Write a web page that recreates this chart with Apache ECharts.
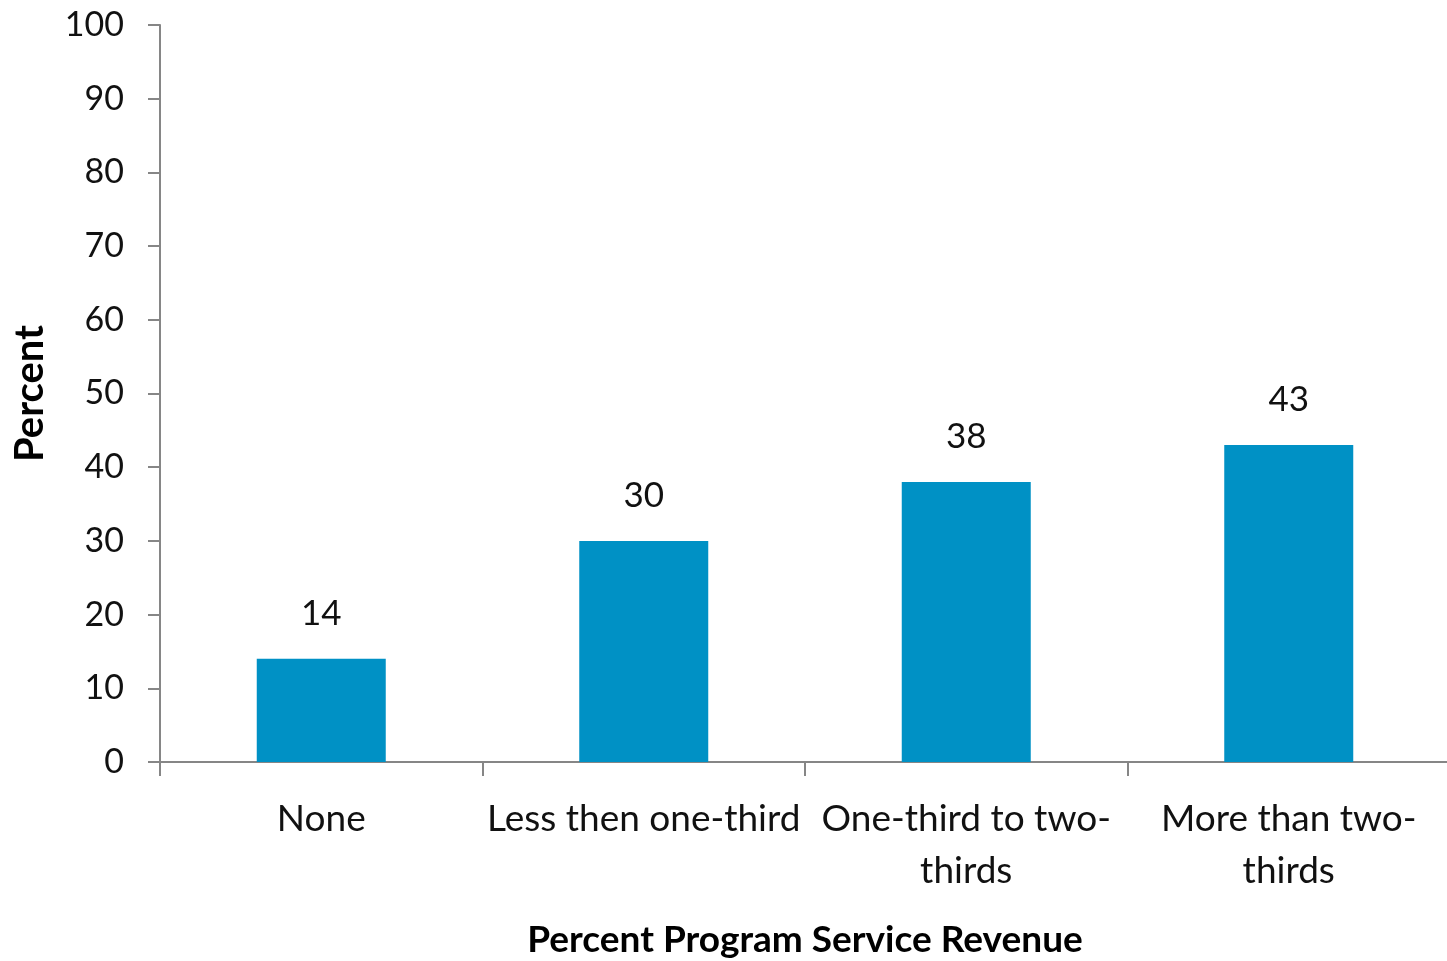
<!DOCTYPE html>
<html>
<head>
<meta charset="utf-8">
<script src="https://cdn.jsdelivr.net/npm/echarts@6/dist/echarts.min.js"></script>
<style>html,body{margin:0;padding:0;background:#fff}#c{width:1447px;height:961px}</style>
</head>
<body>
<div id="c"></div>
<script>
const categories = ["None", "Less then one-third", "One-third to two-thirds", "More than two-thirds"];
const values = [14, 30, 38, 43];
const yTicks = [0, 10, 20, 30, 40, 50, 60, 70, 80, 90, 100];
const xTitle = "Percent Program Service Revenue";
const yTitle = "Percent";

const FONT = 'Lato, "Open Sans", sans-serif';
const chart = echarts.init(document.getElementById('c'), null, {renderer: 'canvas'});
chart.setOption({
  animation: false,
  textStyle: {fontFamily: FONT},
  grid: {left: 160, top: 25, width: 1290, height: 737, containLabel: false, outerBoundsMode: 'none'},
  xAxis: {
    type: 'category',
    data: categories,
    name: xTitle,
    nameLocation: 'middle',
    nameGap: 160,
    nameTextStyle: {fontFamily: FONT, fontWeight: 'bold', fontSize: 37, color: '#000'},
    axisLine: {lineStyle: {color: '#868686', width: 2}},
    axisTick: {show: true, length: 14, lineStyle: {color: '#868686', width: 2}},
    axisLabel: {
      interval: 0, margin: 31, fontSize: 37, color: '#111', lineHeight: 52, fontFamily: FONT,
      formatter: v => v.replace('two-thirds', 'two-\nthirds')
    }
  },
  yAxis: {
    type: 'value',
    min: yTicks[0], max: yTicks[yTicks.length - 1], interval: yTicks[1] - yTicks[0],
    name: yTitle,
    nameLocation: 'middle',
    nameGap: 110,
    nameTextStyle: {fontFamily: FONT, fontWeight: 'bold', fontSize: 40, color: '#000'},
    axisLine: {show: true, lineStyle: {color: '#868686', width: 2}},
    axisTick: {show: true, length: 12, lineStyle: {color: '#868686', width: 2}},
    splitLine: {show: false},
    axisLabel: {margin: 36, fontSize: 34, color: '#111', fontFamily: FONT}
  },
  series: [{
    type: 'bar',
    data: values,
    barWidth: '40%',
    itemStyle: {color: '#0091C5'},
    label: {show: true, position: 'top', distance: 28, fontSize: 35, color: '#111', fontFamily: FONT}
  }]
});
</script>
</body>
</html>
